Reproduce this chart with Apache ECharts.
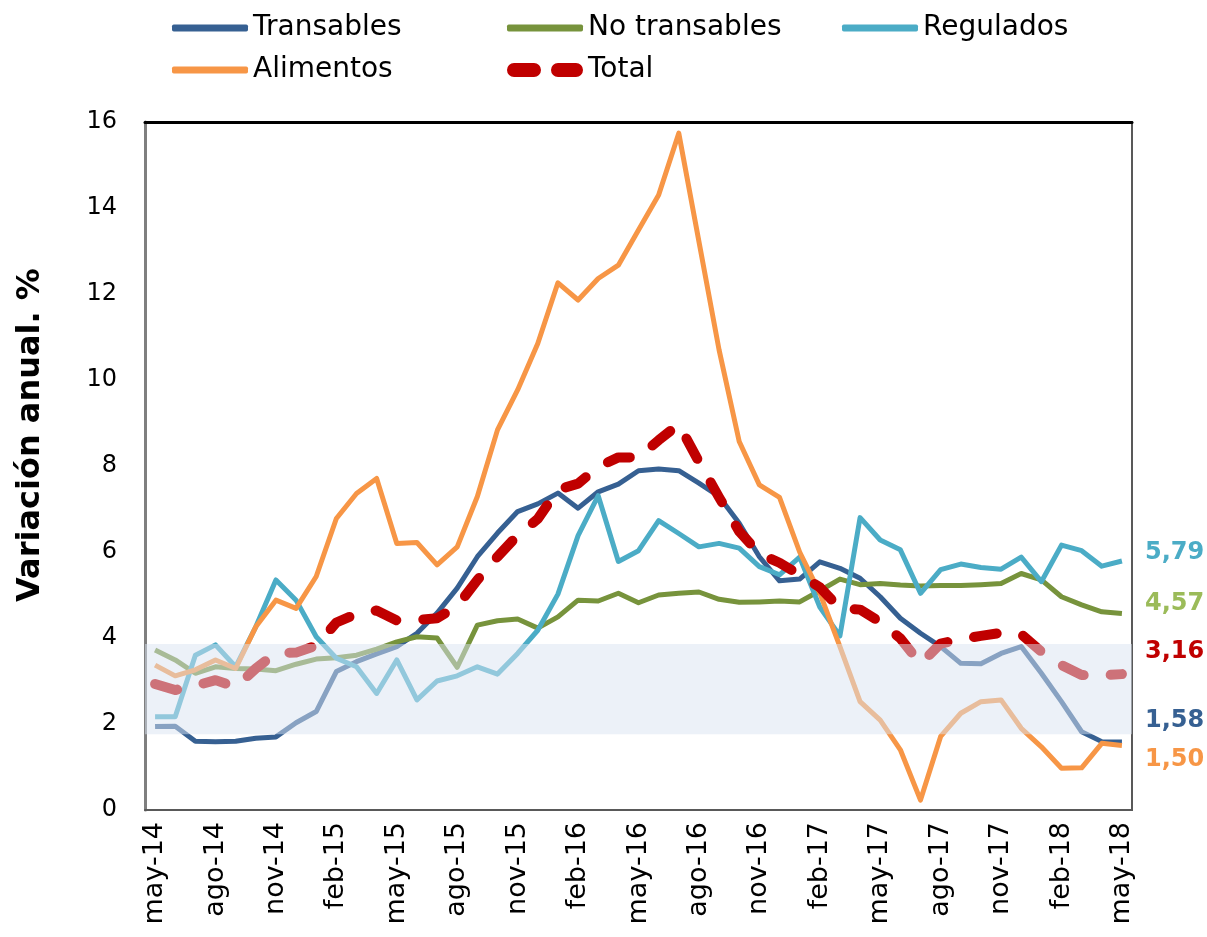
<!DOCTYPE html>
<html>
<head>
<meta charset="utf-8">
<script src="https://cdn.jsdelivr.net/npm/echarts@6/dist/echarts.min.js"></script>
<style>
html,body{margin:0;padding:0;background:#fff;}
#chart{width:1207px;height:937px;}
</style>
</head>
<body>
<div id="chart"></div>
<script>
// meses may-14 .. may-18
var meses = ['may-14','jun-14','jul-14','ago-14','sep-14','oct-14','nov-14','dic-14',
	'ene-15','feb-15','mar-15','abr-15','may-15','jun-15','jul-15','ago-15','sep-15','oct-15','nov-15','dic-15',
	'ene-16','feb-16','mar-16','abr-16','may-16','jun-16','jul-16','ago-16','sep-16','oct-16','nov-16','dic-16',
	'ene-17','feb-17','mar-17','abr-17','may-17','jun-17','jul-17','ago-17','sep-17','oct-17','nov-17','dic-17',
	'ene-18','feb-18','mar-18','abr-18','may-18'];

var transables = [1.94,1.95,1.60,1.59,1.60,1.67,1.70,2.03,2.29,3.22,3.45,3.63,3.80,4.11,4.58,5.16,5.89,6.44,6.94,7.12,
	7.37,7.02,7.40,7.58,7.89,7.93,7.89,7.60,7.29,6.67,5.89,5.33,5.37,5.77,5.62,5.39,4.96,4.46,4.11,3.80,
	3.41,3.40,3.64,3.80,3.18,2.52,1.82,1.59,1.58];
var noTransables = [3.72,3.49,3.18,3.33,3.29,3.28,3.24,3.39,3.51,3.54,3.60,3.74,3.91,4.03,4.00,3.32,4.30,4.40,4.44,4.23,
	4.49,4.88,4.86,5.04,4.82,5.00,5.04,5.07,4.90,4.83,4.84,4.86,4.84,5.10,5.37,5.24,5.27,5.23,5.21,5.22,
	5.22,5.24,5.27,5.50,5.35,4.96,4.77,4.61,4.57];
var regulados = [2.17,2.17,3.60,3.84,3.33,4.26,5.35,4.88,4.03,3.53,3.33,2.71,3.49,2.56,3.00,3.12,3.33,3.16,3.64,4.18,
	5.02,6.38,7.31,5.78,6.03,6.73,6.43,6.12,6.20,6.09,5.66,5.47,5.88,4.72,4.05,6.80,6.28,6.05,5.04,5.59,
	5.72,5.64,5.60,5.88,5.31,6.16,6.03,5.67,5.79];
var alimentos = [3.37,3.12,3.26,3.49,3.29,4.26,4.88,4.69,5.43,6.78,7.36,7.71,6.20,6.22,5.70,6.12,7.29,8.84,9.77,10.85,
	12.26,11.86,12.36,12.67,13.49,14.30,15.74,13.22,10.70,8.57,7.56,7.27,6.00,5.05,3.80,2.52,2.09,1.40,0.23,1.71,
	2.25,2.52,2.56,1.90,1.47,0.97,0.98,1.55,1.50];
var total = [2.93,2.79,2.89,3.02,2.86,3.29,3.65,3.66,3.82,4.36,4.56,4.64,4.41,4.42,4.46,4.74,5.35,5.89,6.39,6.77,
	7.45,7.59,7.98,8.20,8.20,8.60,8.97,8.10,7.27,6.48,5.96,5.75,5.47,5.18,4.69,4.66,4.37,3.99,3.40,3.87,
	3.97,4.05,4.12,4.09,3.68,3.37,3.14,3.13,3.16];

// franja sombreada
var bandaMin = 1.76, bandaMax = 3.86;

var fuente = '"DejaVu Sans", Verdana, sans-serif';

function etiquetaFinal(color, dx, dy) {
	return {
		show: true,
		formatter: function(p) { return p.value.toFixed(2).replace('.', ','); },
		color: color,
		fontFamily: fuente,
		fontWeight: 'bold',
		fontSize: 24,
		distance: 5,
		offset: [dx, dy]
	};
}

function serie(nombre, datos, color, lbl) {
	return {
		name: nombre,
		type: 'line',
		data: datos,
		symbol: 'none',
		z: 3,
		lineStyle: {width: 5, color: color, join: 'round'},
		itemStyle: {color: color},
		endLabel: lbl
	};
}

// icono de la leyenda para la serie punteada
var iconoTotal = 'path://M7,0 H27 A7,7 0 0 1 27,14 H7 A7,7 0 0 1 7,0 Z M51,0 H69 A7,7 0 0 1 69,14 H51 A7,7 0 0 1 51,0 Z';

// una leyenda por elemento
function leyenda(x, y, nombre, icono, alto) {
	return {
		left: x,
		top: y,
		padding: 0,
		itemWidth: 76,
		itemHeight: alto,
		icon: icono,
		data: [nombre],
		textStyle: {fontFamily: fuente, fontSize: 28, color: '#000', lineHeight: 34}
	};
}

var myChart = echarts.init(document.getElementById('chart'));

var option = {
	animation: false,
	legend: [
		leyenda(172, 11, 'Transables', 'roundRect', 7),
		leyenda(507, 11, 'No transables', 'roundRect', 7),
		leyenda(842, 11, 'Regulados', 'roundRect', 7),
		leyenda(172, 53, 'Alimentos', 'roundRect', 7),
		leyenda(507, 53, 'Total', iconoTotal, 14)
	],
	grid: {left: 145, right: 75, top: 122, bottom: 127, show: true, borderColor: '#595959', borderWidth: 2},
	xAxis: [{
		type: 'category',
		data: meses,
		boundaryGap: true,
		axisLine: {lineStyle: {color: '#595959', width: 2}},
		axisTick: {show: false},
		axisLabel: {interval: 2, rotate: 90, fontFamily: fuente, fontSize: 27, color: '#000', margin: 12}
	}, {
		type: 'category',
		position: 'top',
		data: meses,
		axisLine: {lineStyle: {color: '#000', width: 3}},
		axisTick: {show: false},
		axisLabel: {show: false}
	}],
	yAxis: {
		type: 'value',
		min: 0,
		max: 16,
		interval: 2,
		name: 'Variación anual. %',
		nameLocation: 'middle',
		nameGap: 98,
		nameTextStyle: {fontFamily: fuente, fontWeight: 'bold', fontSize: 32, color: '#000', padding: [0, 0, 0, 62]},
		splitLine: {show: false},
		axisLine: {show: true, lineStyle: {color: '#7f7f7f', width: 3}},
		axisTick: {show: false},
		axisLabel: {fontFamily: fuente, fontSize: 24, color: '#000', margin: 28}
	},
	series: [
		serie('Transables', transables, '#366092', etiquetaFinal('#366092', 18, -21)),
		serie('No transables', noTransables, '#77933C', etiquetaFinal('#9BBB59', 18, -10)),
		serie('Regulados', regulados, '#4BACC6', etiquetaFinal('#4BACC6', 18, -8)),
		serie('Alimentos', alimentos, '#F79646', etiquetaFinal('#F79646', 18, 14)),
		{
			name: 'Total',
			type: 'line',
			data: total,
			symbol: 'none',
			z: 4,
			lineStyle: {width: 10, color: '#C00000', type: [23, 27], cap: 'round', join: 'round'},
			itemStyle: {color: '#C00000'},
			endLabel: etiquetaFinal('#C00000', 18, -22)
		},
		{
			name: 'banda',
			type: 'line',
			data: [],
			z: 20,
			markArea: {
				silent: true,
				z: 20,
				itemStyle: {color: 'rgba(218,227,241,0.5)'},
				data: [[{yAxis: bandaMin}, {yAxis: bandaMax}]]
			}
		}
	]
};

myChart.setOption(option);
</script>
</body>
</html>
